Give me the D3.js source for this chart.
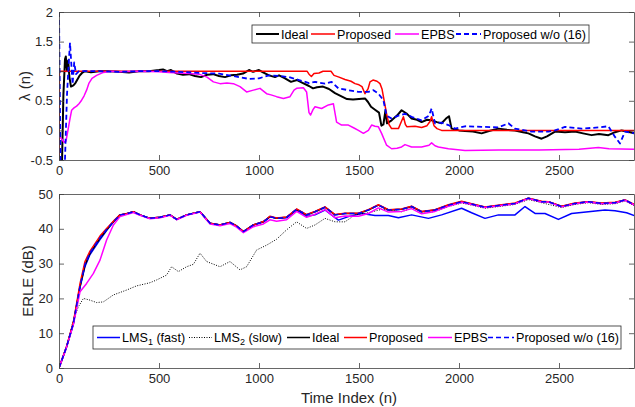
<!DOCTYPE html>
<html>
<head>
<meta charset="utf-8">
<script src="https://cdn.jsdelivr.net/npm/d3@7"></script>
<style>
  body { margin: 0; background: #fff; }
  svg { display: block; font-family: "Liberation Sans", Arial, sans-serif; }
  .axis text { fill: #262626; font-size: 13px; }
  .axis path, .axis line { stroke: #404040; stroke-width: 0.8; }
</style>
</head>
<body>
<div id="chart"></div>
<script>
// tick values
const xTicks = [0, 500, 1000, 1500, 2000, 2500];
const lamTicks = [-0.5, 0, 0.5, 1, 1.5, 2];
const erleTicks = [0, 10, 20, 30, 40, 50];

// top panel: lambda(n), pairs of [n, value]
const lamIdeal = [[0,-0.7],[14,-0.7],[22,0.6],[30,1.2],[34,1.25],[40,1.0],[46,1.18],[52,0.9],[60,0.74],[72,0.76],[82,0.8],[92,0.86],[102,0.92],[115,0.97],[130,1.0],[160,0.98],[200,1.0],[250,1.0],[300,0.99],[350,0.98],[400,1.0],[450,1.0],[500,1.02],[520,1.03],[540,1.0],[560,1.02],[590,0.96],[620,0.94],[650,0.95],[680,0.92],[710,0.9],[740,0.94],[770,0.95],[800,0.92],[830,0.9],[860,0.93],[890,0.94],[920,0.96],[950,1.02],[970,0.99],[1000,1.02],[1020,0.98],[1050,0.93],[1080,0.9],[1100,0.93],[1130,0.88],[1160,0.82],[1190,0.85],[1220,0.8],[1250,0.75],[1270,0.71],[1290,0.73],[1320,0.74],[1350,0.7],[1380,0.63],[1410,0.58],[1440,0.53],[1470,0.52],[1500,0.53],[1530,0.54],[1545,0.48],[1560,0.4],[1580,0.35],[1600,0.3],[1612,0.08],[1622,0.1],[1632,0.33],[1640,0.12],[1663,0.17],[1690,0.25],[1713,0.34],[1740,0.28],[1763,0.2],[1790,0.18],[1813,0.14],[1840,0.18],[1863,0.17],[1890,0.14],[1913,0.12],[1935,0.2],[1950,0.24],[1963,0.03],[2000,0.0],[2030,-0.01],[2070,-0.02],[2113,-0.05],[2150,-0.01],[2197,0.03],[2240,0.01],[2280,0.0],[2320,-0.03],[2347,-0.05],[2380,-0.1],[2413,-0.14],[2440,-0.1],[2480,-0.02],[2530,-0.03],[2580,-0.02],[2620,-0.05],[2663,-0.08],[2700,-0.06],[2747,-0.08],[2780,-0.03],[2813,0.0],[2840,-0.02],[2880,-0.05]];
const lamProposed = [[0,-0.7],[2,1.0],[600,1.0],[1240,1.0],[1250,0.95],[1262,0.91],[1275,0.96],[1300,0.97],[1320,1.0],[1360,1.0],[1375,0.93],[1400,0.9],[1430,0.86],[1460,0.83],[1480,0.79],[1500,0.77],[1515,0.74],[1530,0.62],[1545,0.7],[1555,0.82],[1570,0.85],[1590,0.83],[1605,0.79],[1615,0.7],[1622,0.57],[1638,0.28],[1650,0.1],[1663,0.03],[1697,0.03],[1712,0.15],[1722,0.23],[1732,0.1],[1740,0.06],[1780,0.07],[1813,0.05],[1840,0.08],[1855,0.15],[1863,0.23],[1875,0.08],[1890,0.03],[1913,0.0],[2880,0.0]];
const lamEpbs = [[0,-0.1],[15,-0.15],[25,-0.2],[35,-0.18],[42,-0.05],[55,0.2],[63,0.34],[75,0.38],[88,0.41],[100,0.45],[113,0.51],[125,0.58],[138,0.68],[150,0.8],[165,0.88],[188,0.93],[222,0.98],[260,1.0],[300,0.99],[400,1.0],[500,0.99],[550,0.98],[600,0.97],[650,0.96],[700,0.95],[740,0.9],[772,0.82],[805,0.79],[840,0.8],[872,0.79],[905,0.74],[938,0.65],[972,0.68],[1005,0.71],[1038,0.62],[1060,0.6],[1088,0.57],[1122,0.54],[1155,0.57],[1175,0.68],[1188,0.71],[1222,0.72],[1238,0.65],[1250,0.3],[1258,0.26],[1270,0.35],[1280,0.4],[1313,0.37],[1347,0.43],[1372,0.45],[1388,0.14],[1413,0.09],[1447,0.09],[1475,0.04],[1497,0.0],[1522,-0.05],[1547,0.0],[1563,0.09],[1580,0.07],[1597,0.06],[1613,-0.05],[1638,-0.25],[1663,-0.31],[1690,-0.3],[1713,-0.28],[1730,-0.24],[1763,-0.28],[1813,-0.28],[1850,-0.25],[1863,-0.21],[1880,-0.26],[1897,-0.28],[1947,-0.31],[2030,-0.34],[2200,-0.33],[2400,-0.33],[2600,-0.32],[2697,-0.29],[2750,-0.31],[2880,-0.32]];
const lamProposedWo = [[0,2.0],[8,-0.7],[28,-0.7],[40,0.6],[48,1.1],[55,1.48],[62,1.1],[68,0.78],[76,1.15],[85,0.95],[100,1.0],[200,1.0],[300,0.99],[400,1.0],[500,1.0],[600,0.99],[700,0.97],[800,0.96],[850,0.93],[900,0.9],[950,0.87],[1000,0.88],[1050,0.93],[1100,0.92],[1150,0.9],[1200,0.85],[1250,0.8],[1280,0.82],[1330,0.79],[1363,0.82],[1397,0.71],[1447,0.68],[1497,0.65],[1547,0.65],[1572,0.68],[1597,0.62],[1622,0.51],[1638,0.25],[1663,0.2],[1697,0.25],[1730,0.28],[1763,0.23],[1813,0.17],[1850,0.25],[1863,0.37],[1880,0.12],[1913,0.13],[1947,0.09],[1980,0.03],[2030,0.07],[2113,0.06],[2197,0.05],[2247,0.12],[2280,0.03],[2363,-0.02],[2447,-0.02],[2480,0.0],[2530,0.06],[2613,0.03],[2697,0.05],[2747,0.07],[2780,-0.11],[2805,-0.22],[2830,-0.02],[2880,-0.05]];

// bottom panel: ERLE (dB), pairs of [n, value]
const erleIdeal = [[0,0],[38,6.1],[72,12.8],[105,23.4],[130,29.6],[155,33],[205,37.3],[238,39.7],[272,42],[305,44],[338,44.3],[372,44.9],[405,44],[455,43],[505,43.3],[555,44],[588,42.7],[638,44],[705,44.9],[755,41.6],[805,41.1],[855,41.8],[888,40.8],[922,39.2],[972,41.1],[1022,42],[1055,43.5],[1088,43],[1138,43.3],[1188,45.6],[1238,44],[1280,44.9],[1330,46.2],[1380,44],[1430,44.4],[1497,44.4],[1547,45.4],[1597,46.8],[1647,45.4],[1713,45.6],[1763,46.4],[1813,44.9],[1880,45.4],[1947,46.8],[2013,47.8],[2063,47.1],[2130,46.2],[2213,46.8],[2280,47.3],[2347,48.8],[2413,47.8],[2447,47.8],[2513,46.4],[2580,47.3],[2647,47.8],[2713,47.3],[2780,47.5],[2830,48.3],[2880,46.8]];
const erleProposed = [[0,0],[38,6.2],[72,13.2],[105,24.2],[130,30.6],[155,33.6],[205,37.9],[238,40.1],[272,42.2],[305,44],[338,44.3],[372,44.9],[405,44],[455,43],[505,43.3],[555,44],[588,42.7],[638,44],[705,44.9],[755,41.6],[805,41.1],[855,41.8],[888,40.8],[922,39.2],[972,41.1],[1022,42.1],[1055,43.6],[1088,43.1],[1138,43.4],[1188,45.7],[1238,44.1],[1280,45],[1330,46.3],[1380,44.1],[1430,44.5],[1497,44.5],[1547,45.5],[1597,46.9],[1647,45.5],[1713,45.7],[1763,46.5],[1813,45],[1880,45.5],[1947,46.9],[2013,47.9],[2063,47.2],[2130,46.3],[2213,46.9],[2280,47.4],[2347,48.8],[2413,47.9],[2447,47.8],[2513,46.5],[2580,47.4],[2647,47.8],[2713,47.4],[2780,47.6],[2830,48.3],[2880,46.9]];
const erleEpbs = [[0,0],[38,6],[72,12.5],[105,21.9],[138,24.3],[172,27.2],[205,31],[238,36.8],[272,41.1],[305,43.5],[338,44.1],[372,44.7],[405,43.9],[455,42.9],[505,43.2],[555,43.9],[588,42.6],[638,43.9],[705,44.8],[755,41.4],[805,40.9],[855,41.5],[888,40.5],[922,38.9],[972,40.6],[1022,41.4],[1055,42.6],[1088,42.2],[1138,42.6],[1188,45],[1238,43.3],[1280,44.2],[1330,45.5],[1380,43.2],[1430,43.7],[1497,43.6],[1547,44.4],[1597,46],[1647,44.8],[1713,45],[1763,45.8],[1813,44.3],[1880,45],[1947,46.5],[2013,47.6],[2063,47],[2130,46.1],[2213,46.7],[2280,47.2],[2347,48.7],[2413,47.7],[2447,47.7],[2513,46.3],[2580,47.2],[2647,47.7],[2713,47.2],[2780,47.4],[2830,48.2],[2880,46.7]];
const erleProposedWo = [[0,0],[38,6.1],[72,12.9],[105,23.5],[130,29.8],[155,33.1],[205,37.4],[238,39.8],[272,42],[305,44],[338,44.3],[372,44.9],[405,44],[455,43],[505,43.3],[555,44],[588,42.7],[638,44],[705,44.9],[755,41.6],[805,41.1],[855,41.8],[888,40.8],[922,39.2],[972,41.1],[1022,42],[1055,43.5],[1088,43],[1138,43.3],[1188,45.6],[1238,44],[1280,44.9],[1330,46.2],[1380,44],[1430,44.4],[1497,44.4],[1547,45.4],[1597,46.8],[1647,45.4],[1713,45.6],[1763,46.4],[1813,44.9],[1880,45.4],[1947,46.8],[2013,47.8],[2063,47.1],[2130,46.2],[2213,46.8],[2280,47.3],[2347,48.8],[2413,47.8],[2447,47.8],[2513,46.4],[2580,47.3],[2647,47.8],[2713,47.3],[2780,47.5],[2830,48.3],[2880,46.8]];
const erleLms1 = [[0,0],[38,6.1],[72,12.8],[105,23.2],[130,29.2],[155,32.6],[205,36.9],[238,39.5],[272,42],[305,44],[338,44.3],[372,44.9],[405,44],[455,43],[505,43.3],[555,44],[588,42.7],[638,44],[705,44.9],[755,41.6],[805,41.1],[855,41.8],[888,40.8],[922,39.2],[972,41.1],[1022,42],[1055,43.5],[1088,43],[1138,43.2],[1188,45.4],[1238,43.6],[1280,44],[1330,45.4],[1397,42.5],[1447,43.5],[1513,44.4],[1580,43.8],[1647,43.8],[1697,43.2],[1763,44],[1847,43],[1913,44],[2013,45.9],[2063,44.6],[2130,43],[2197,44],[2280,44],[2330,46.4],[2380,44.4],[2430,44.4],[2497,42.7],[2563,44.4],[2647,44.9],[2730,45.4],[2780,45.2],[2838,44.6],[2880,43.7]];
const erleLms2 = [[0,0],[38,6],[72,13.8],[97,17.6],[122,20],[155,19.5],[188,18.8],[222,19],[272,21],[338,22.4],[388,23.6],[455,24.5],[488,25.3],[538,26.7],[563,29.1],[597,27.7],[638,29.1],[672,29.8],[705,33],[738,30.6],[805,29.1],[855,30.6],[905,28.2],[938,29.1],[988,33.9],[1038,35.3],[1088,37],[1138,39.7],[1188,42],[1238,40.1],[1280,41.1],[1330,43],[1380,42],[1430,42],[1480,44],[1547,44.6],[1613,45.6],[1713,44.9],[1763,45.9],[1813,44.4],[1880,45],[1947,46.4],[2013,47.4],[2063,46.8],[2130,45.9],[2213,46.5],[2280,47],[2347,48.4],[2413,47.5],[2513,46.1],[2580,47],[2647,47.5],[2713,47],[2780,47.2],[2830,48],[2880,46.5]];

const W = 635, H = 407;
const left = 59, right = 634;
const top1 = 12, bot1 = 160;
const top2 = 194, bot2 = 368;

const svg = d3.select("#chart").append("svg")
    .attr("width", W)
    .attr("height", H);

svg.append("rect").attr("width", W).attr("height", H).attr("fill", "#fff");

const x = d3.scaleLinear().domain([0, 2875]).range([left, right]);
const yLam = d3.scaleLinear().domain([-0.5, 2]).range([bot1, top1]);
const yErle = d3.scaleLinear().domain([0, 50]).range([bot2, top2]);

// plain number labels, hyphen minus like the original
const fmt = d => String(d);

// clip paths for each panel
const defs = svg.append("defs");
defs.append("clipPath").attr("id", "clip1").append("rect")
    .attr("x", left).attr("y", top1).attr("width", right - left).attr("height", bot1 - top1);
defs.append("clipPath").attr("id", "clip2").append("rect")
    .attr("x", left).attr("y", top2).attr("width", right - left).attr("height", bot2 - top2);

function drawAxes(y, yt, t, b) {
    svg.append("g").attr("class", "axis")
        .attr("transform", `translate(0,${b})`)
        .call(d3.axisBottom(x).tickValues(xTicks).tickFormat(fmt).tickSizeInner(-5).tickSizeOuter(0).tickPadding(6));
    svg.append("g").attr("class", "axis")
        .attr("transform", `translate(0,${t})`)
        .call(d3.axisTop(x).tickValues(xTicks).tickSizeInner(-5).tickSizeOuter(0).tickFormat(""));
    svg.append("g").attr("class", "axis")
        .attr("transform", `translate(${left},0)`)
        .call(d3.axisLeft(y).tickValues(yt).tickFormat(fmt).tickSizeInner(-5).tickSizeOuter(0).tickPadding(6));
    svg.append("g").attr("class", "axis")
        .attr("transform", `translate(${right},0)`)
        .call(d3.axisRight(y).tickValues(yt).tickSizeInner(-5).tickSizeOuter(0).tickFormat(""));
}

function drawLine(data, y, clip, color, width, dash) {
    const line = d3.line().x(d => x(d[0])).y(d => y(d[1]));
    svg.append("path")
        .datum(data)
        .attr("clip-path", `url(#${clip})`)
        .attr("fill", "none")
        .attr("stroke", color)
        .attr("stroke-width", width)
        .attr("stroke-dasharray", dash || null)
        .attr("stroke-linejoin", "round")
        .attr("d", line);
}

// top panel
drawLine(lamIdeal, yLam, "clip1", "#000", 2);
drawLine(lamProposed, yLam, "clip1", "#ff0000", 1.5);
drawLine(lamEpbs, yLam, "clip1", "#ff00ff", 1.5);
drawLine(lamProposedWo, yLam, "clip1", "#0000ff", 1.8, "5,3");
drawAxes(yLam, lamTicks, top1, bot1);

// bottom panel
drawLine(erleLms1, yErle, "clip2", "#0000ff", 1.5);
drawLine(erleLms2, yErle, "clip2", "#000", 1, "1,1.5");
drawLine(erleIdeal, yErle, "clip2", "#000", 1.5);
drawLine(erleProposed, yErle, "clip2", "#ff0000", 1.5);
drawLine(erleEpbs, yErle, "clip2", "#ff00ff", 1.5);
drawLine(erleProposedWo, yErle, "clip2", "#0000ff", 1.5, "5,3");
drawAxes(yErle, erleTicks, top2, bot2);

// axis labels
svg.append("text")
    .attr("transform", `translate(30,${(top1 + bot1) / 2}) rotate(-90)`)
    .attr("text-anchor", "middle")
    .attr("font-size", 15)
    .attr("fill", "#262626")
    .text("λ (n)");
svg.append("text")
    .attr("transform", `translate(33,${(top2 + bot2) / 2}) rotate(-90)`)
    .attr("text-anchor", "middle")
    .attr("font-size", 15)
    .attr("fill", "#262626")
    .text("ERLE (dB)");
svg.append("text")
    .attr("x", 349)
    .attr("y", 403)
    .attr("text-anchor", "middle")
    .attr("font-size", 15)
    .attr("fill", "#262626")
    .text("Time Index (n)");

// legends
function legend(box, items) {
    const g = svg.append("g");
    g.append("rect")
        .attr("x", box.x).attr("y", box.y).attr("width", box.w).attr("height", box.h)
        .attr("fill", "#fff").attr("stroke", "#262626").attr("stroke-width", 0.8);
    const cy = box.y + box.h / 2;
    items.forEach(it => {
        g.append("line")
            .attr("x1", it.x0).attr("x2", it.x1).attr("y1", cy).attr("y2", cy)
            .attr("stroke", it.color).attr("stroke-width", it.w)
            .attr("stroke-dasharray", it.dash || null);
        const t = g.append("text")
            .attr("x", it.x1 + 2).attr("y", cy + 4.5)
            .attr("font-size", 12.6).attr("fill", "#000");
        if (it.sub) {
            t.append("tspan").text(it.label);
            t.append("tspan").attr("font-size", 9).attr("dy", 3).text(it.sub);
            t.append("tspan").attr("dy", -3).text(it.rest);
        } else {
            t.text(it.label);
        }
    });
}

legend({ x: 252, y: 25, w: 337, h: 18 }, [
    { x0: 256, x1: 279, color: "#000", w: 2, label: "Ideal" },
    { x0: 311, x1: 335, color: "#ff0000", w: 1.5, label: "Proposed" },
    { x0: 395, x1: 419, color: "#ff00ff", w: 1.5, label: "EPBS" },
    { x0: 456, x1: 481, color: "#0000ff", w: 1.8, dash: "5,3", label: "Proposed w/o (16)" }
]);

legend({ x: 93, y: 326, w: 528, h: 23 }, [
    { x0: 97, x1: 120, color: "#0000ff", w: 1.5, label: "LMS", sub: "1", rest: " (fast)" },
    { x0: 189, x1: 212, color: "#000", w: 1, dash: "1,1.5", label: "LMS", sub: "2", rest: " (slow)" },
    { x0: 287, x1: 310, color: "#000", w: 1.5, label: "Ideal" },
    { x0: 344, x1: 367, color: "#ff0000", w: 1.5, label: "Proposed" },
    { x0: 428, x1: 452, color: "#ff00ff", w: 1.5, label: "EPBS" },
    { x0: 488, x1: 514, color: "#0000ff", w: 1.5, dash: "5,3", label: "Proposed w/o (16)" }
]);
</script>
</body>
</html>
